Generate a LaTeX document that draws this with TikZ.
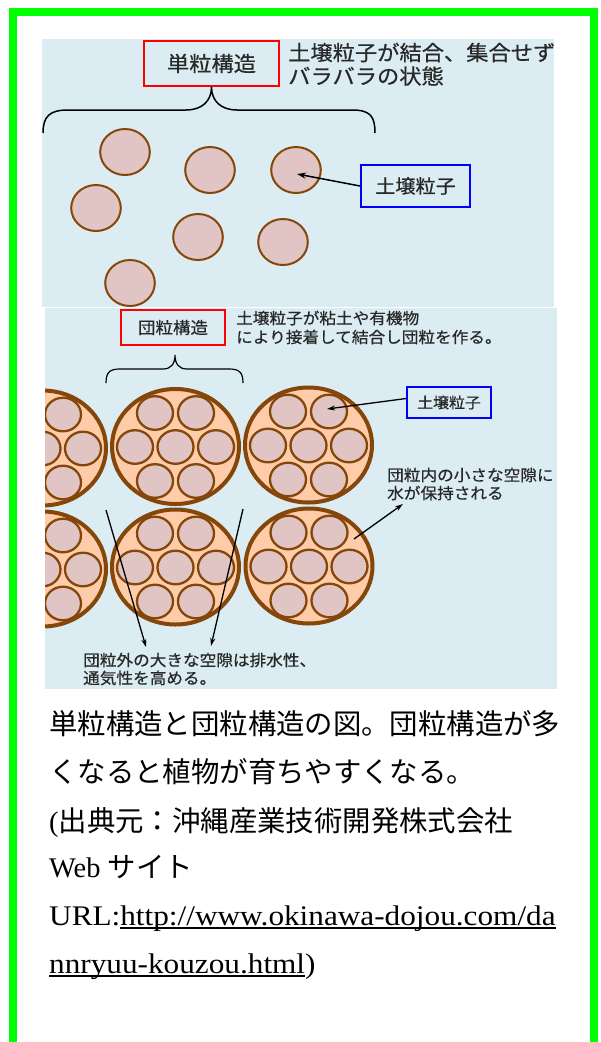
\documentclass[tikz,border=0pt]{standalone}
\usepackage{fontspec}
\setmainfont{Liberation Serif}
\newfontfamily\cjk{Noto Sans CJK JP}
\newfontfamily\figfont[FakeStretch=1.06,FakeBold=0.5]{Noto Sans CJK JP}
\newfontfamily\urlfont[FakeStretch=1.1]{Liberation Serif}
\usetikzlibrary{arrows.meta}

\definecolor{framegreen}{RGB}{0,255,0}
\definecolor{sky}{RGB}{219,236,242}
\definecolor{grain}{RGB}{224,197,196}
\definecolor{soilbrown}{RGB}{133,70,10}
\definecolor{crumb}{RGB}{255,204,170}
\definecolor{figtext}{RGB}{40,40,40}

% underlined link text with the rule placed just under the baseline
\newsavebox\linkbox
\newcommand\weblink[1]{\sbox\linkbox{#1}\rlap{\vrule height -2.3pt depth 4.3pt width \wd\linkbox}\usebox\linkbox}

\tikzset{
  grainT/.style={draw=soilbrown, fill=grain, line width=2pt},
  crumbS/.style={draw=soilbrown, fill=crumb, line width=4pt},
  grainS/.style={draw=soilbrown, fill=grain, line width=2.3pt},
  figlabel/.style={text=figtext, inner sep=0pt, anchor=west},
  redbox/.style={draw=red, line width=2pt, inner sep=0pt, text=figtext},
  bluebox/.style={draw=blue, line width=2pt, inner sep=0pt, text=figtext},
  pointer/.style={line width=1.5pt, -{Stealth[length=9pt,width=6pt]}},
  thinpointer/.style={line width=1.3pt, -{Stealth[length=8pt,width=5pt]}},
  caption/.style={anchor=base west, inner sep=0pt, font=\fontsize{28.4}{34}\selectfont},
  aggregate/.pic={
    \draw[crumbS] (0,0) ellipse [x radius=63.5pt, y radius=57.5pt];
    \foreach \dx/\dy in {-20.5/-33.5, 20.5/-33.5, -40.5/0.5, 0/0.5, 40.5/0.5, -20.5/34.5, 20.5/34.5}
      \draw[grainS] (\dx,\dy) ellipse [x radius=18pt, y radius=16.8pt];
  }
}

\begin{document}
\begin{tikzpicture}[x=1pt,y=-1pt]
\useasboundingbox (0,0) rectangle (601,1042);
\fill[white] (0,0) rectangle (601,1042);

% green frame, open at the bottom
\draw[framegreen, line width=8pt, line join=miter] (13,1042) -- (13,12) -- (594,12) -- (594,1042);

% ---------- single-grain structure ----------
\fill[sky] (42,39) rectangle (554,307);
\begin{scope}
\clip (42,39) rectangle (554,307);
\foreach \cx/\cy in {125/152, 210/170, 296/170, 96/208, 198/237, 283/242, 130/283}
  \draw[grainT] (\cx,\cy) ellipse [x radius=24.8pt, y radius=23pt];
\end{scope}
\coordinate (grainA) at (297,174);

\node[redbox, minimum width=135pt, minimum height=45pt, font=\figfont\fontsize{21}{24}\selectfont] (singleT) at (211.5,63.5) {単粒構造};
\node[figlabel, font=\figfont\fontsize{21}{24}\selectfont] (singleD1) at (288,52.5) {土壌粒子が結合、集合せず};
\node[figlabel, font=\figfont\fontsize{21}{24}\selectfont] (singleD2) at (288,76) {バラバラの状態};

\draw[line width=1.5pt] (43,133) .. controls (43,116) and (50,110) .. (68,110) -- (186,110)
  .. controls (202,110) and (211.5,101) .. (singleT.south)
  .. controls (211.5,101) and (221,110) .. (237,110) -- (352,110)
  .. controls (370,110) and (375,116) .. (375,133);

\node[bluebox, minimum width=109pt, minimum height=42pt, font=\figfont\fontsize{19}{22}\selectfont] (grainL1) at (415.5,186) {土壌粒子};
\draw[pointer] (grainL1.west) -- (grainA);

% ---------- aggregate structure ----------
\fill[sky] (45,308) rectangle (557,689);
\begin{scope}
\clip (45,308) rectangle (557,689);
\pic at (42.5,448) {aggregate};
\pic at (175.5,446.5) {aggregate};
\pic at (308.5,445) {aggregate};
\pic at (42.5,569) {aggregate};
\pic at (175.5,567) {aggregate};
\pic at (309,566) {aggregate};
\end{scope}

\node[redbox, line width=1.8pt, minimum width=104pt, minimum height=35pt, font=\figfont\fontsize{16.5}{19}\selectfont] (crumbT) at (173,327.5) {団粒構造};
\node[figlabel, font=\figfont\fontsize{15.7}{18}\selectfont] (crumbD1) at (236,318) {土壌粒子が粘土や有機物};
\node[figlabel, font=\figfont\fontsize{15.7}{18}\selectfont] (crumbD2) at (236,337) {により接着して結合し団粒を作る。};

\draw[line width=1.2pt] (106,383) .. controls (106,372) and (110,369) .. (120,369) -- (163,369)
  .. controls (171,369) and (175,364) .. (175,355)
  .. controls (175,364) and (179,369) .. (187,369) -- (229,369)
  .. controls (239,369) and (243,372) .. (243,383);

\node[bluebox, line width=1.8pt, minimum width=84pt, minimum height=31pt, font=\figfont\fontsize{15}{18}\selectfont] (grainL2) at (449,402.5) {土壌粒子};
\coordinate (grainB) at (327,409);
\draw[thinpointer] ([yshift=4pt]grainL2.west) -- (grainB);

\node[figlabel, font=\figfont\fontsize{15.7}{18}\selectfont] (inner1) at (387,475) {団粒内の小さな空隙に};
\node[figlabel, font=\figfont\fontsize{15.7}{18}\selectfont] (inner2) at (387,493) {水が保持される};
\coordinate (innerS) at (354,539);
\coordinate (innerE) at (403,504);
\draw[thinpointer] (innerS) -- (innerE);

\node[figlabel, font=\figfont\fontsize{15.7}{18}\selectfont] (outer1) at (83,660) {団粒外の大きな空隙は排水性、};
\node[figlabel, font=\figfont\fontsize{15.7}{18}\selectfont] (outer2) at (83,678) {通気性を高める。};
\coordinate (gapLs) at (106,510);
\coordinate (gapLe) at (146,647);
\coordinate (gapRs) at (243,509);
\coordinate (gapRe) at (211,646);
\draw[thinpointer] (gapLs) -- (gapLe);
\draw[thinpointer] (gapRs) -- (gapRe);

% ---------- caption ----------
\node[caption] (cap1) at (49,734) {\cjk 単粒構造と団粒構造の図。団粒構造が多};
\node[caption] (cap2) at (49,782) {\cjk くなると植物が育ちやすくなる。};
\node[caption] (cap3) at (49,831) {({\cjk 出典元：沖縄産業技術開発株式会社}};
\node[caption] (cap4) at (49,877) {Web {\cjk サイト}};
\node[caption] (cap5) at (49,925) {\urlfont URL:\weblink{http://www.okinawa-dojou.com/da}};
\node[caption] (cap6) at (49,973) {\urlfont \weblink{nnryuu-kouzou.html})};
\end{tikzpicture}
\end{document}
